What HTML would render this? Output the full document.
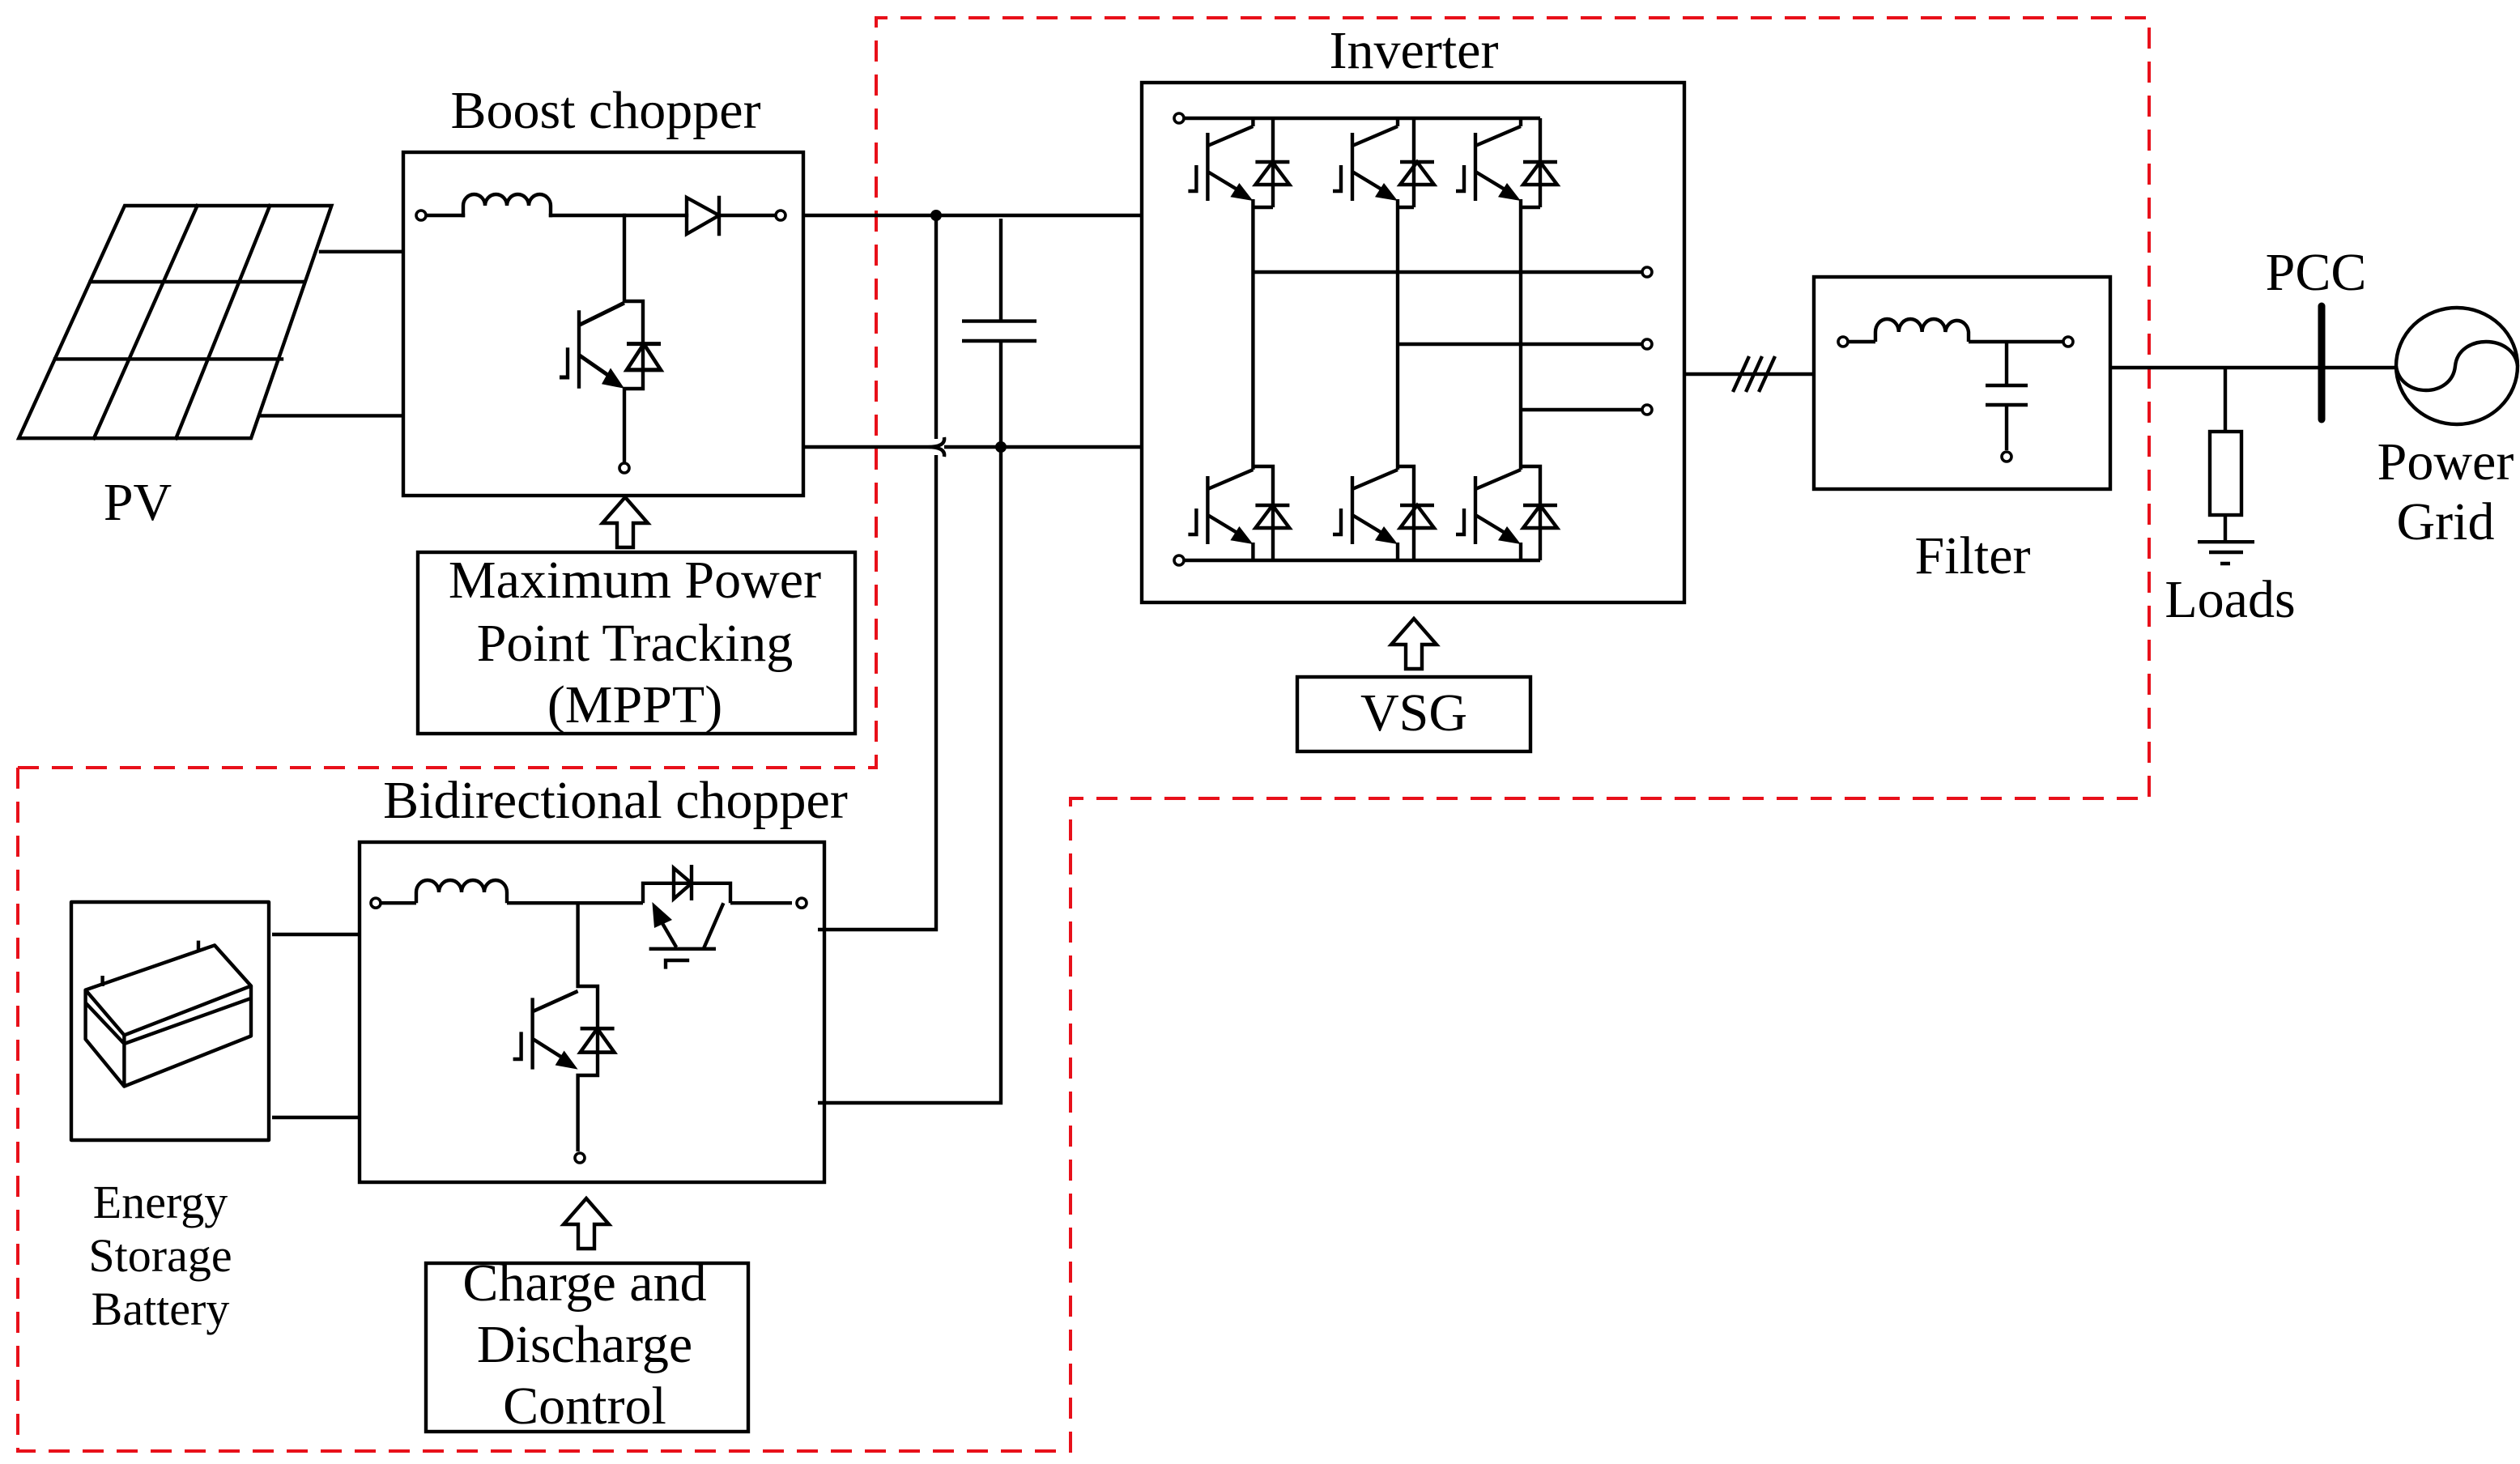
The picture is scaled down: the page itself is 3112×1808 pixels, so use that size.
<!DOCTYPE html>
<html><head><meta charset="utf-8"><style>
html,body{margin:0;padding:0;background:#fff;}
svg{display:block;}
text{font-family:"Liberation Serif",serif;fill:#000;}
</style></head><body>
<svg width="3112" height="1808" viewBox="0 0 1556 904" xmlns="http://www.w3.org/2000/svg">
<defs>
<g id="igbt">
  <path d="M-28,4 V46 M-28,12 L0,0 M-28,28 L-9,39.5 M-40,40 H-35 V24 M1.5,22 H22.5 M12,22 L1.5,36 H22.5 Z" fill="none" stroke="#000" stroke-width="2.2"/>
  <polygon points="0,46 -14,43.6 -8.5,35" fill="#000"/>
</g>
</defs>
<rect width="1556" height="904" fill="#fff"/>

<!-- red dashed boundary -->
<g fill="none" stroke="#e8101a" stroke-width="2" stroke-dasharray="13,8">
  <path d="M11,474 H541 V11 H1327 V493 H661 V904"/>
  <path d="M11,474 V896 H661"/>
</g>

<g fill="none" stroke="#000" stroke-width="2.2" stroke-linecap="square">
<!-- PV panel -->
<path d="M77,127 H204.7 L155,270.6 H11.6 Z"/>
<path d="M55.8,174 H188 M34,221.7 H174 M121.8,127 L58,270.6 M166.6,127 L108.7,270.6"/>
<path d="M198,155.4 H248 M160.6,256.7 H248"/>

<!-- Boost box -->
<rect x="249" y="94" width="247" height="212"/>
<path d="M263,133 H286 M340,133 H424 M444,133 H479"/>
<path d="M286,133 V127 a6.75,7 0 0 1 13.5,0 a6.75,7 0 0 1 13.5,0 a6.75,7 0 0 1 13.5,0 a6.75,7 0 0 1 13.5,0 V133"/>
<path d="M424,122 L444,133 L424,144.5 Z M444,122 V144.5"/>
<path d="M385.5,133 V186 M385.5,186 H397 V240 H385.5 V286"/>
</g>
<use href="#igbt" transform="translate(385.5,187) scale(1,1.15)"/>
<g fill="#fff" stroke="#000" stroke-width="1.8">
<circle cx="260" cy="133" r="3"/><circle cx="482" cy="133" r="3"/><circle cx="385.5" cy="289" r="3"/>
</g>

<!-- DC bus -->
<g fill="none" stroke="#000" stroke-width="2.2">
<path d="M497,133 H705 M497,276 H573 M583,276 H705"/>
<path d="M573,276 Q584,276 583,270 M573,276 Q584,276 583,282" />
<path d="M578,133 V271 M578,281 V574 H505"/>
<path d="M618,135 V198 M594,198.3 H640 M594,210.5 H640 M618,210.5 V681 H505"/>
</g>
<circle cx="578" cy="133" r="3.5" fill="#000"/>
<circle cx="618" cy="276" r="3.5" fill="#000"/>

<!-- Inverter -->
<g fill="none" stroke="#000" stroke-width="2.2">
<rect x="705" y="51" width="335" height="321"/>
<path d="M725,73 H951 M725,346 H951"/>
<path d="M773.7,73 V78 M773.7,123 V290 M773.7,128 H786 M786,73 V128 M773.7,288 H786 V346 M773.7,335 V346"/>
<path d="M863,73 V78 M863,123 V290 M863,128 H873 M873,73 V128 M863,288 H873 V346 M863,335 V346"/>
<path d="M939,73 V78 M939,123 V290 M939,128 H951 M951,73 V128 M939,288 H951 V346 M939,335 V346"/>
<path d="M773.7,168 H1014 M863,212.5 H1014 M939,253 H1014"/>
<path d="M1040,231 H1120 M1070,242 L1080,220 M1078,242 L1088,220 M1086,242 L1096,220"/>
</g>
<use href="#igbt" transform="translate(773.7,78)"/>
<use href="#igbt" transform="translate(863,78)"/>
<use href="#igbt" transform="translate(939,78)"/>
<use href="#igbt" transform="translate(773.7,290)"/>
<use href="#igbt" transform="translate(863,290)"/>
<use href="#igbt" transform="translate(939,290)"/>
<g fill="#fff" stroke="#000" stroke-width="1.8">
<circle cx="728" cy="73" r="3"/><circle cx="728" cy="346" r="3"/>
<circle cx="1017" cy="168" r="3"/><circle cx="1017" cy="212.5" r="3"/><circle cx="1017" cy="253" r="3"/>
</g>

<!-- Filter -->
<g fill="none" stroke="#000" stroke-width="2.2">
<rect x="1120" y="171" width="183" height="131"/>
<path d="M1141,211 H1158 M1215.5,211 H1274"/>
<path d="M1158,211 V205 a7.2,8 0 0 1 14.4,0 a7.2,8 0 0 1 14.4,0 a7.2,8 0 0 1 14.4,0 a7.2,8 0 0 1 14.3,0 V211"/>
<path d="M1239,211 V238 M1226,238 H1252 M1226,250 H1252 M1239,250 V278"/>
<path d="M1303,227 H1479"/>
<path d="M1374,227 V266 M1374,318 V334.6 M1357,334.6 H1392 M1364,341 H1385 M1371,348 H1377"/>
<rect x="1364.5" y="266.5" width="19.5" height="51.5"/>
<ellipse cx="1517" cy="226" rx="37.5" ry="36"/>
<path d="M1479.5,226 C1482,246 1514,246 1516,226 C1518,206 1552,206 1554.5,226"/>
</g>
<path d="M1433.5,189 V259" stroke="#000" stroke-width="4.5" stroke-linecap="round"/>
<g fill="#fff" stroke="#000" stroke-width="1.8">
<circle cx="1138" cy="211" r="3"/><circle cx="1277" cy="211" r="3"/><circle cx="1239" cy="282" r="3"/>
</g>

<!-- VSG / MPPT -->
<g fill="none" stroke="#000" stroke-width="2.2">
<rect x="801" y="418" width="144" height="46"/>
<polygon points="873,382 887,398 878,398 878,413 868,413 868,398 859,398"/>
<rect x="258" y="341" width="270" height="112"/>
<polygon points="386,307 400,323 391,323 391,338 381,338 381,323 372,323"/>
</g>

<!-- Battery -->
<g fill="none" stroke="#000" stroke-width="2.2" stroke-linejoin="round">
<rect x="44" y="557" width="122" height="147"/>
<path d="M52.8,611.3 L132.5,583.7 L155,608.8 L76.7,639.2 Z"/>
<path d="M52.8,611.3 V641.7 L76.7,670.8 L155,639.7 V608.8 M76.7,639.2 V670.8 M52.8,619.2 L76.7,644.5 L154.2,616.7"/>
<path d="M63.3,602.5 V609 M122.5,580.8 V586.7"/>
<path d="M168,577 H222 M168,690 H222"/>
</g>

<!-- Bidirectional chopper -->
<g fill="none" stroke="#000" stroke-width="2.2">
<rect x="222" y="520" width="287" height="210"/>
<path d="M235,557.6 H257 M313,557.6 H397 M451,557.6 H489"/>
<path d="M257,557.6 V551 a7,7.5 0 0 1 14,0 a7,7.5 0 0 1 14,0 a7,7.5 0 0 1 14,0 a7,7.5 0 0 1 14,0 V557.6"/>
<path d="M397,557.6 V545.4 H451 V557.6 M416,536 L427,545.4 L416,555 Z M427,534 V556"/>
<path d="M400.8,585.9 H442 M446.7,557.6 L434.6,585.4 M417.6,584.9 L406,565 M411,598.3 V593 H425.6"/>
<path d="M356.8,557.6 V609 H369 V664 H356.8 V711"/>
<rect x="263" y="780" width="199" height="104"/>
<polygon points="362,740 376,756 367,756 367,771 357,771 357,756 348,756"/>
</g>
<polygon points="402.7,557 415,568 404,573" fill="#000"/>
<use href="#igbt" transform="translate(356.8,612) scale(1,1.05)"/>
<g fill="#fff" stroke="#000" stroke-width="1.8">
<circle cx="232" cy="557.6" r="3"/><circle cx="495" cy="557.6" r="3"/><circle cx="358" cy="715" r="3"/>
</g>

<!-- Labels -->
<g font-size="33" text-anchor="middle">
<text x="374" y="79">Boost chopper</text>
<text x="873" y="42">Inverter</text>
<text x="85" y="321">PV</text>
<text x="392" y="369">Maximum Power</text>
<text x="392" y="408">Point Tracking</text>
<text x="392" y="446">(MPPT)</text>
<text x="873" y="451">VSG</text>
<text x="1218" y="354">Filter</text>
<text x="1430" y="179">PCC</text>
<text x="1510" y="296">Power</text>
<text x="1510" y="333">Grid</text>
<text x="1377" y="381">Loads</text>
<text x="380" y="505">Bidirectional chopper</text>
<text x="361" y="803">Charge and</text>
<text x="361" y="841">Discharge</text>
<text x="361" y="879">Control</text>
</g>
<g font-size="29" text-anchor="middle">
<text x="99" y="752">Energy</text>
<text x="99" y="785">Storage</text>
<text x="99" y="818">Battery</text>
</g>
</svg>
</body></html>
